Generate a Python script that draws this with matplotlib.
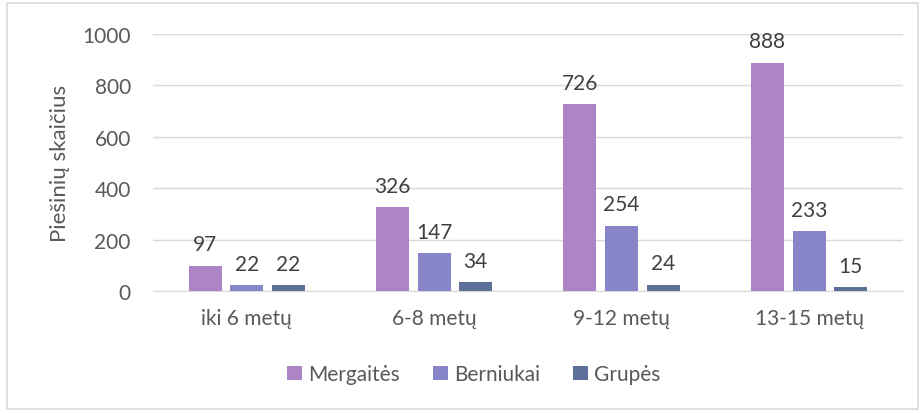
import matplotlib.pyplot as plt
import numpy as np
from matplotlib.patches import Rectangle

categories = ["iki 6 metų", "6-8 metų", "9-12 metų", "13-15 metų"]
series_names = ["Mergaitės", "Berniukai", "Grupės"]
mergaites = [97, 326, 726, 888]
berniukai = [22, 147, 254, 233]
grupes = [22, 34, 24, 15]
y_ticks = [0, 200, 400, 600, 800, 1000]

colors = ["#AD84C6", "#8784C7", "#5D7099"]

plt.rcParams["font.family"] = ["Lato", "DejaVu Sans"]

fig = plt.figure(figsize=(9.24, 4.14), dpi=100)
ax = fig.add_axes([0.1656, 0.2947, 0.8114, 0.6208])

# outer chart border
fig.patches.append(Rectangle((0.008, 0.01), 0.985, 0.98, transform=fig.transFigure,
                             fill=False, edgecolor="#D9D9D9", linewidth=1.2))

x = np.arange(len(categories))
width = 0.176
pitch = 0.222
for i, (vals, name) in enumerate(zip([mergaites, berniukai, grupes], series_names)):
    pos = x + (i - 1) * pitch
    bars = ax.bar(pos, vals, width, color=colors[i], label=name, zorder=3)
    for b, v in zip(bars, vals):
        ax.text(b.get_x() + b.get_width() / 2, v + 45, str(v), ha="center", va="bottom",
                fontsize=15, color="#404040", zorder=4)

ax.set_xlim(-0.5, len(categories) - 0.5)
ax.set_ylim(0, 1000)
ax.set_yticks(y_ticks)
ax.set_xticks(x)
ax.set_xticklabels(categories)
ax.tick_params(axis="both", length=0, labelsize=15, labelcolor="#595959")
ax.tick_params(axis="x", pad=12)
ax.tick_params(axis="y", pad=16)
ax.yaxis.grid(True, color="#D9D9D9", linewidth=1, zorder=0)
for s in ["top", "right", "left"]:
    ax.spines[s].set_visible(False)
ax.spines["bottom"].set_color("#D9D9D9")
ax.set_ylabel("Piešinių skaičius", fontsize=16, color="#595959", labelpad=9)

fig.legend(loc="center", bbox_to_anchor=(0.513, 0.093), ncol=3, frameon=False,
           fontsize=15, labelcolor="#595959", handlelength=0.7, handleheight=0.7,
           handletextpad=0.3, columnspacing=1.6)

fig.savefig("out.png", dpi=100)
